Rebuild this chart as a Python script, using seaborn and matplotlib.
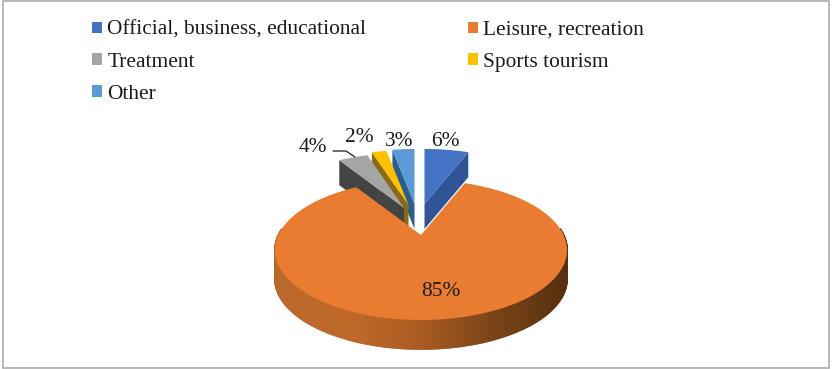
import numpy as np
import matplotlib
matplotlib.use("Agg")
import matplotlib.pyplot as plt
from matplotlib.colors import LinearSegmentedColormap
from matplotlib.patches import Patch, Rectangle
import seaborn as sns

categories = ["Official, business, educational", "Leisure, recreation",
              "Treatment", "Sports tourism", "Other"]
shares = [6, 85, 4, 2, 3]

sns.set_theme(style="white")
plt.rcParams["font.family"] = ["Liberation Serif", "DejaVu Serif"]

top_colors = sns.color_palette(["#4472c4", "#e97c30", "#a5a5a5", "#ffc000", "#5b9bd5"])
side_colors = ["#2f5597", "#c06a28", "#444444", "#8a6a12", "#2a5f8c"]
rim_cmap = LinearSegmentedColormap.from_list(
    "rim", ["#b9682b", "#c06a2a", "#aa5c22", "#7a4418", "#56300f"])

fig = plt.figure(figsize=(8.32, 3.69), dpi=100)
ax = fig.add_axes([0, 0, 1, 1])
ax.set_xlim(0, 832)
ax.set_ylim(369, 0)
ax.axis("off")
ax.add_patch(Rectangle((2.5, 0.5), 826, 367, fill=False, ec="#ababab", lw=1.2))

# Tilted disc: a point on the unit circle maps through a simple perspective.
HUB = (421.0, 235.0)
RX, RY, PERSP = 142.6, 66.8, 0.214
DEPTH = 29.0
CUT_DEPTH = 25.0


def project(theta_deg, radius=1.0):
    """Clockwise angle from twelve o'clock to a point on the disc face."""
    t = np.radians(theta_deg)
    u, v = radius * np.sin(t), radius * np.cos(t)
    w = 1 + PERSP * v
    return RX * u / w, -RY * v / w


# Where each pulled-out slice has its tip; the large slice stays on the hub.
tips = {0: (424.5, 204.0), 1: HUB, 2: (404.0, 208.0), 3: (408.5, 205.0), 4: (414.5, 204.0)}

edges = np.concatenate([[0], np.cumsum(shares)]) / sum(shares) * 360.0


def face(i, n=60):
    th = np.linspace(edges[i], edges[i + 1], n)
    px, py = project(th)
    tx, ty = tips[i]
    return np.r_[tx, tx + px], np.r_[ty, ty + py]


def cut_wall(i, theta):
    px, py = project(theta)
    tx, ty = tips[i]
    xs = [tx, tx + px, tx + px, tx]
    ys = [ty, ty + py, ty + py + CUT_DEPTH, ty + CUT_DEPTH]
    return xs, ys


# Small slices, back to front, with the cut wall that faces the viewer.
visible_cut = {0: 1, 4: 0, 3: 0, 2: 0}
z = 2.0
for i in [0, 4, 3, 2]:
    xs, ys = cut_wall(i, edges[i + visible_cut[i]])
    ax.fill(xs, ys, color=side_colors[i], lw=0, zorder=z)
    fx, fy = face(i)
    ax.fill(fx, fy, color=top_colors[i], lw=0, zorder=z + 0.5)
    z += 1

# Rim of the big slice, shaded from left to right.
rim_th = np.linspace(edges[1], edges[2], 400)
rx_, ry_ = project(rim_th)
rx_ += HUB[0]
ry_ += HUB[1]
for a in range(len(rim_th) - 1):
    if np.cos(np.radians((rim_th[a] + rim_th[a + 1]) / 2)) > 0.1:
        continue
    shade = rim_cmap(np.clip((rx_[a] - 275) / (567 - 275), 0, 1))
    ax.fill([rx_[a], rx_[a + 1], rx_[a + 1], rx_[a]],
            [ry_[a], ry_[a + 1], ry_[a + 1] + DEPTH, ry_[a] + DEPTH],
            color=shade, lw=1.2, ec=shade, zorder=10)
fx, fy = face(1, 300)
ax.fill(fx, fy, color=top_colors[1], lw=0, zorder=11)

# Percentage labels
label_pos = {0: (445, 141), 1: (441, 292), 2: (313, 148), 3: (359, 137), 4: (399, 142)}
for i, v in enumerate(shares):
    ax.text(*label_pos[i], f"{v}%", ha="center", va="center", fontsize=15.4,
            color="#1a1a1a", zorder=20)
ax.plot([333, 346, 355], [151, 151, 157], color="#333333", lw=1.0, zorder=20)

# Legend, filled column by column
order = [0, 2, 4, 1, 3]
handles = [Patch(fc=top_colors[i], ec="none", label=categories[i]) for i in order]
ax.legend(handles=handles, ncol=2, loc="upper left", bbox_to_anchor=(92 / 832, 1 - 21 / 369),
          frameon=False, fontsize=15.4, handlelength=0.47, handleheight=0.47,
          handletextpad=0.25, labelspacing=0.6, columnspacing=4.75, borderpad=0,
          borderaxespad=0, labelcolor="#1a1a1a")

fig.savefig("out.png", dpi=100)
